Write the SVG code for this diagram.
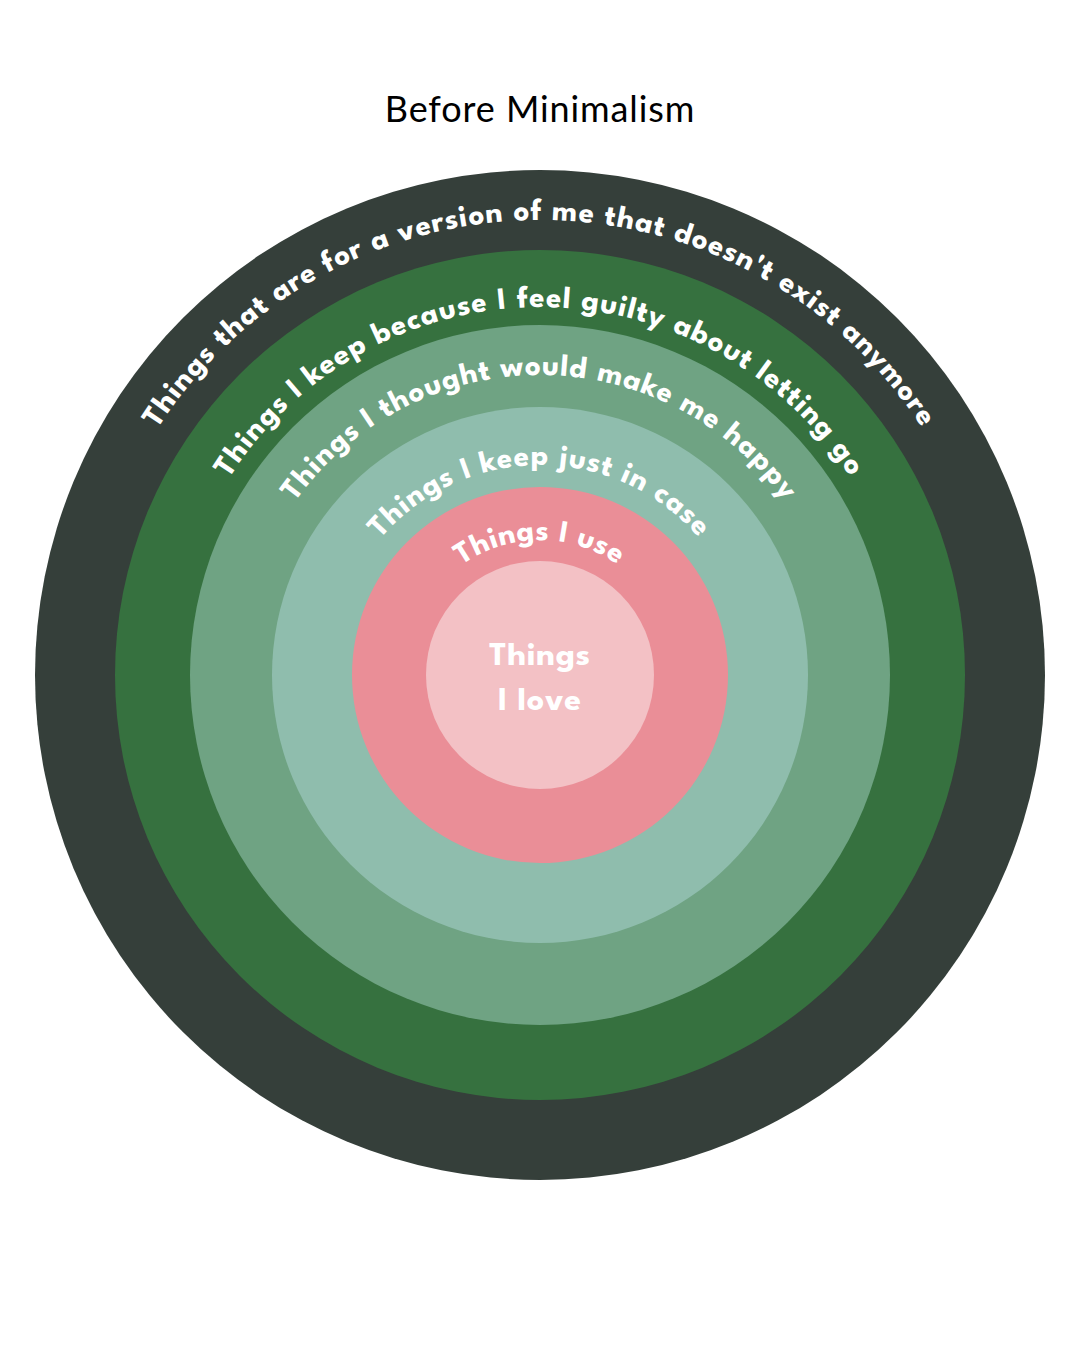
<svg xmlns="http://www.w3.org/2000/svg" width="1080" height="1350" viewBox="0 0 1080 1350">
<style>
.ring{font-family:"League Spartan","Lato","Liberation Sans",sans-serif;font-weight:700;fill:#ffffff;font-size:31px;}
.title{font-family:"Lato","Noto Sans","Liberation Sans",sans-serif;font-weight:400;font-size:36px;letter-spacing:0.9px;fill:#000000;}
</style>
<defs>
<path id="p1" d="M 85 675 A 455 455 0 0 1 995 675"/>
<path id="p2" d="M 172 675 A 368 368 0 0 1 908 675"/>
<path id="p3" d="M 240 675 A 300 300 0 0 1 840 675"/>
<path id="p4" d="M 330 675 A 210 210 0 0 1 750 675"/>
<path id="p5" d="M 405 675 A 135 135 0 0 1 675 675"/>
</defs>
<rect width="1080" height="1350" fill="#ffffff"/>
<text class="title" x="540" y="122" text-anchor="middle">Before Minimalism</text>
<g id="ring-outer">
<circle cx="540" cy="675" r="505" fill="#353f3a"/>
<text class="ring" letter-spacing="1.05"><textPath href="#p1" startOffset="50%" text-anchor="middle">Things that are for a version of me that doesn't exist anymore</textPath></text>
</g>
<g id="ring-guilty">
<circle cx="540" cy="675" r="425" fill="#36713f"/>
<text class="ring" letter-spacing="1.15"><textPath href="#p2" startOffset="50%" text-anchor="middle">Things I keep because I feel guilty about letting go</textPath></text>
</g>
<g id="ring-happy">
<circle cx="540" cy="675" r="350" fill="#6fa383"/>
<text class="ring" letter-spacing="1.05"><textPath href="#p3" startOffset="50%" text-anchor="middle">Things I thought would make me happy</textPath></text>
</g>
<g id="ring-case">
<circle cx="540" cy="675" r="268" fill="#8fbdad"/>
<text class="ring" letter-spacing="1.0"><textPath href="#p4" startOffset="50%" text-anchor="middle">Things I keep just in case</textPath></text>
</g>
<g id="ring-use">
<circle cx="540" cy="675" r="188" fill="#ea8e97"/>
<text class="ring" letter-spacing="0.6"><textPath href="#p5" startOffset="50%" text-anchor="middle">Things I use</textPath></text>
</g>
<g id="core-love">
<circle cx="540" cy="675" r="114" fill="#f3c1c5"/>
<text class="ring" style="font-size:34px" letter-spacing="0.7" x="540" y="665" text-anchor="middle">Things</text>
<text class="ring" style="font-size:34px" letter-spacing="0.7" x="540" y="710" text-anchor="middle">I love</text>
</g>
</svg>
